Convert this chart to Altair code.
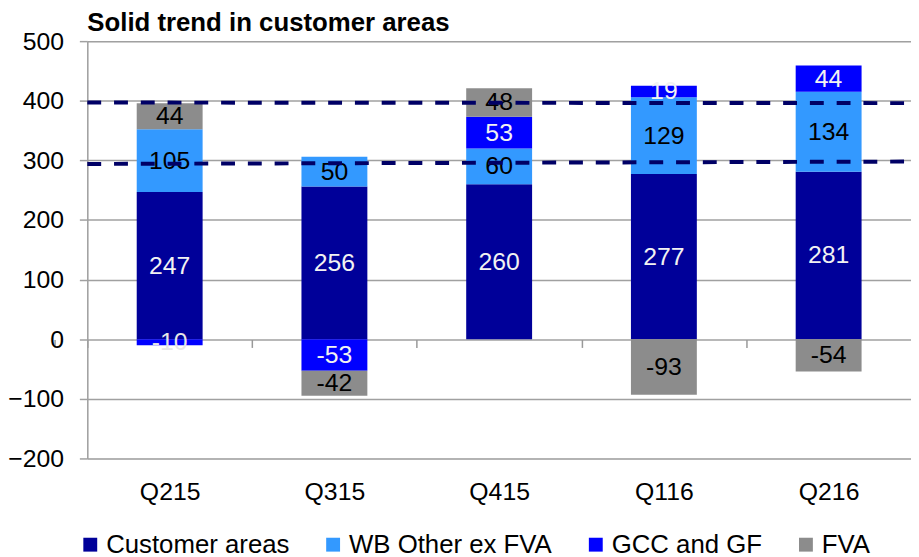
import altair as alt
import pandas as pd

quarters = ["Q215", "Q315", "Q415", "Q116", "Q216"]
series = ["Customer areas", "WB Other ex FVA", "GCC and GF", "FVA"]
customer_areas = [247, 256, 260, 277, 281]
wb_other = [105, 50, 60, 129, 134]
gcc_gf = [-10, -53, 53, 19, 44]
fva = [44, -42, 48, -93, -54]
colors = ["#000099", "#3399FF", "#0000FF", "#8C8C8C"]
text_colors = ["#F2F2F2", "#000000", "#F2F2F2", "#000000"]
dash_start = [397, 294]
dash_end = [396, 298]

rows = []
for si, (name, vals) in enumerate(zip(series, [customer_areas, wb_other, gcc_gf, fva])):
    for q, v in zip(quarters, vals):
        rows.append({"quarter": q, "series": name, "value": v, "order": si,
                     "label": str(v),
                     "tc": ("#E6E6E6" if v == -10 else text_colors[si])})
df = pd.DataFrame(rows)
dash_df = pd.DataFrame({"a": dash_start, "b": dash_end})

FONT = "Arial"
FS = 25
W, H = 831, 421
STEP = W / 5

base = alt.Chart(df).transform_stack(
    stack="value", as_=["v0", "v1"], groupby=["quarter"],
    sort=[alt.SortField("order", order="ascending")]
).transform_calculate(mid="(datum.v0 + datum.v1) / 2")

xenc = alt.X("quarter:N", sort=quarters,
             scale=alt.Scale(paddingInner=0.6, paddingOuter=0.3),
             axis=alt.Axis(title=None, orient="bottom", offset=-120, domain=False,
                           ticks=True, tickOffset=-STEP / 2, tickExtra=True,
                           labelOffset=STEP / 2,
                           tickSize=8, tickColor="#999999",
                           tickWidth=1.5, labelPadding=133, labelFontSize=FS,
                           labelFont=FONT, labelColor="#000000", labelAngle=0, grid=False))

yscale = alt.Scale(domain=[-200, 500], nice=False, zero=False)

bars = base.mark_bar().encode(
    x=xenc,
    y=alt.Y("v0:Q", scale=yscale,
            axis=alt.Axis(title=None, values=list(range(-200, 501, 100)), grid=True,
                          gridColor="#A0A0A0", gridWidth=1.5, domain=True,
                          domainColor="#A0A0A0", domainWidth=1.5, tickColor="#A0A0A0",
                          tickWidth=1.5, tickSize=8, labelFontSize=FS, labelFont=FONT,
                          labelColor="#000000", labelPadding=16)),
    y2="v1:Q",
    color=alt.Color("series:N", scale=alt.Scale(domain=series, range=colors),
                    legend=alt.Legend(title=None, orient="none", legendX=-10, legendY=495,
                                      direction="horizontal", columns=4, columnPadding=31,
                                      symbolType="square", symbolSize=196,
                                      symbolStrokeWidth=0, labelFontSize=26,
                                      labelFont=FONT, labelColor="#000000",
                                      labelOffset=3, padding=0, labelLimit=400)),
)

texts = base.mark_text(fontSize=FS, font=FONT, baseline="middle", align="center").encode(
    x=alt.X("quarter:N", sort=quarters),
    y=alt.Y("mid:Q", scale=yscale),
    text="label:N",
    fill=alt.Fill("tc:N", scale=None),
)

dashes = alt.Chart(dash_df).mark_rule(color="#000066", strokeWidth=4,
                                      strokeDash=[14, 13]).encode(
    x=alt.value(0), x2=alt.value(W),
    y=alt.Y("a:Q", scale=yscale), y2="b:Q",
)

chart = alt.layer(bars, texts, dashes).properties(
    width=W, height=H,
    title=alt.TitleParams("Solid trend in customer areas", anchor="start", frame="group",
                          fontSize=26, font=FONT, fontWeight="bold", color="#000000",
                          offset=6, dy=13),
    autosize=alt.AutoSizeParams(type="none"),
    padding={"left": 80, "top": 31, "right": 0, "bottom": 97},
).configure_view(stroke=None).configure(background="white")

chart.save("out.html", embed_options={"renderer": "svg", "actions": False})
